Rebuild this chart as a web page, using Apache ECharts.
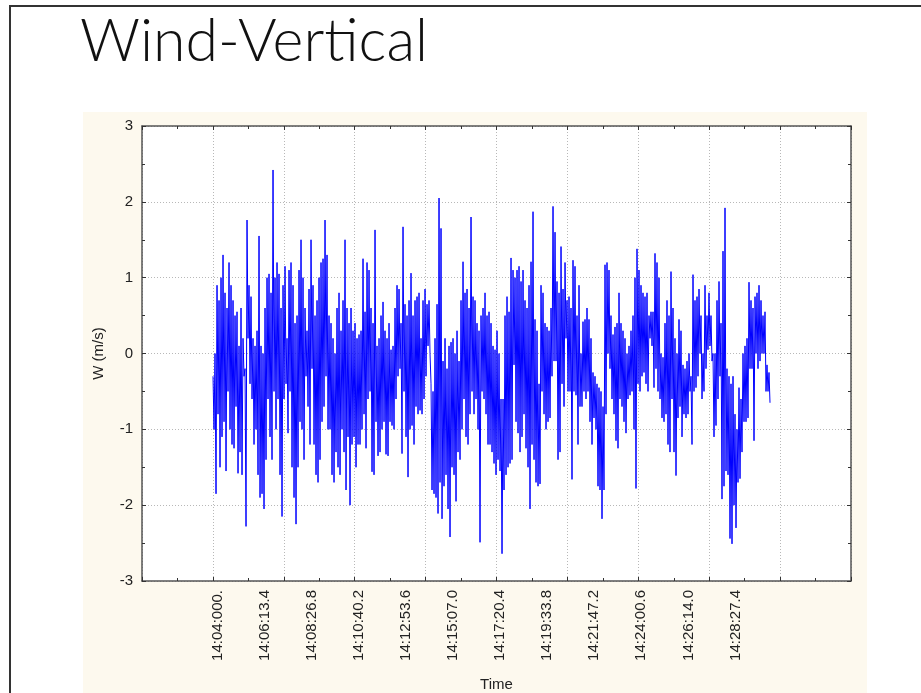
<!DOCTYPE html>
<html>
<head>
<meta charset="utf-8">
<script src="https://cdn.jsdelivr.net/npm/echarts@6/dist/echarts.min.js"></script>
<style>
html,body{margin:0;padding:0;background:#fff;}
#chart{width:921px;height:693px;}
</style>
</head>
<body>
<div id="chart"></div>
<script>
// ---- data ----
const titleText = 'Wind-Vertical';
const yName = 'W (m/s)';
const xName = 'Time';
const yTicks = [-3, -2, -1, 0, 1, 2, 3];
const timeLabels = ['14:04:000.', '14:06:13.4', '14:08:26.8', '14:10:40.2', '14:12:53.6', '14:15:07.0',
  '14:17:20.4', '14:19:33.8', '14:21:47.2', '14:24:00.6', '14:26:14.0', '14:28:27.4'];
const labelStepSeconds = 133.4;     // spacing between time labels
const startSeconds = -12.7;         // first sample, seconds after 14:04:00
const sampleSeconds = 2.8328;       // spacing between samples
const wValues = [
 -0.3,-1.0, 0.0,-1.85, 0.9,-0.8, 0.7,-1.5, 1.0,-1.1, 1.3,-0.9, 0.8,-1.55, 0.6,-0.5, 1.2,-1.0, 0.9,-1.2,
 0.7,-1.25, 0.5,-0.7, 0.55,-1.58, 0.1,-1.3, 0.6,-1.6, 0.2,-0.3, -0.2,-2.28, 1.76,0.2, 0.9,-0.4, 0.75,-0.6,
 0.2,-1.2, 0.1,-1.0, 0.3,-1.6, 1.55,-1.9, 0.1,-1.85, 0.0,-2.05, 0.6,-1.4, 1.0,-0.6, 1.05,-1.1, 0.8,-1.4,
 2.42,-0.5, 1.0,-1.0, 1.2,-0.6, 1.05,-1.6, 0.6,-2.15, 0.9,-0.6, 1.15,-0.4, 0.2,-1.05, 1.1,-0.5, 1.2,-1.5,
 0.9,-1.9, 0.4,-2.25, 0.5,-1.5, 1.1,-0.9, 1.5,-1.0, 1.0,-1.4, 0.6,-0.3, 0.3,-0.7, 0.85,-1.2, 1.5,-0.2,
 0.9,-1.2, 0.5,-1.6, 0.7,-1.7, 1.0,-1.4, 1.2,-0.9, 1.25,-0.7, 1.76,-0.3, 1.3,-1.0, 0.5,-1.0, 0.4,-1.6,
 0.2,-1.7, 0.0,-1.3, 0.6,-1.5, 0.8,-1.6, 0.3,-1.0, 0.7,-1.3, 1.5,-1.8, 0.6,-1.1, 0.4,-2.0, 0.6,-1.2,
 0.3,-1.1,
 0.4,-1.5, 0.2,-1.2, 0.25,-1.2, 0.3,-1.0, 1.25,-0.8, 0.55,-1.25, 1.2,-0.6, 1.1,-0.5, 0.6,-1.56, 0.4,-1.6,
 1.63,-0.9, 0.1,-1.35, 0.2,-1.3, 0.5,-1.0, 0.68,-0.9, 0.3,-1.33, 0.2,-1.35, 0.4,-0.9, 0.05,-0.95, 0.1,-1.0,
 0.6,-0.6, 0.9,-0.3, 0.85,-0.2, 0.4,-1.32, 1.67,-0.5, 0.65,-1.1, 0.5,-1.63, 0.7,-1.0, 1.06,-0.95, 0.5,-1.2,
 0.7,-0.7, 0.75,-0.8, 0.8,-0.75, 0.2,-0.8, 0.7,-0.6, 0.85,-0.3, 0.65,0.1, 0.7,0.0, -0.4,-1.8, -0.5,-1.85,
 0.2,-1.9, 0.65,-2.11, 2.05,-1.7, 1.65,-2.18, -0.1,-1.75, 0.2,-1.6, -0.2,-2.05, 0.1,-2.42, 0.15,-1.5, 0.2,-1.6,
 0.0,-1.95, 0.3,-1.3, -0.1,-1.4, 0.7,-1.0, 1.21,-0.6, 0.8,-1.1, 0.85,-1.2, 0.6,-0.8, 1.8,-0.5, 0.75,-0.8,
 0.7,-0.6, 0.4,-1.0, 0.3,-2.49, 0.5,-0.5, 0.6,-0.6, 0.8,-0.8, 0.5,-1.2, 0.55,-1.2, 0.4,-1.3, 0.1,-1.45,
 0.05,-1.6, 0.3,-1.4, 0.0,-1.55, -0.6,-2.64,
 -0.6,-1.8, 0.5,-1.6, 0.75,-1.5, 0.55,-1.45, 1.26,-1.4, 1.1,-0.15, 1.0,-0.9, 1.1,-1.05, 1.15,-1.3, 0.95,-1.1,
 1.1,-0.8, 0.7,-1.25, 0.6,-1.5, 0.9,-2.05, 1.21,-1.2, 1.87,-1.4, 0.45,-1.7, 0.3,-1.75, -0.4,-1.72, 0.9,-0.5,
 0.8,-0.8, 0.4,-1.0, 0.35,-0.9, 0.3,-0.85, 0.6,-0.3, 1.94,-0.1, 1.6,-0.1, 0.95,-1.4, 0.8,-1.3, 1.41,-0.4,
 0.85,-0.7, 1.2,0.2, 0.7,-0.5, 0.75,-0.5, 0.6,-1.66, 1.23,-0.5, 1.15,-0.55, 0.5,-1.2, 0.9,-0.7, 0.0,-0.7,
 0.42,-0.5, 0.45,-0.6, 0.6,-0.5, 0.45,-0.9, 0.2,-1.2, -0.25,-0.85, -0.3,-1.0, -0.4,-1.75, -0.45,-1.8, -0.5,-2.18,
 -0.7,-1.8, 1.17,-0.8, 1.2,0.0, 1.1,-0.2, 0.5,-0.6, 0.25,-0.8, 0.35,-1.15, 0.4,-1.25, 0.8,-0.6, 0.4,-0.7,
 0.3,-0.9, 0.2,-1.05, 0.0,-0.6, 0.1,-0.55, 0.3,-0.5, 0.5,-1.0, 1.0,-1.78, 1.38,-0.4,
 1.1,-0.5, 0.9,-0.3, 0.8,-0.25, 0.75,-0.4, 0.8,-0.5, 0.5,0.2, 0.55,0.1, 0.55,-0.45, 1.32,-0.2, 1.2,-0.5,
 1.0,-0.6, 0.0,-0.85, -0.05,-0.9, 0.4,-0.8, 0.7,-1.2, 0.5,-1.3, 1.08,-0.6, 0.6,-1.3, 0.2,-1.61, 0.0,-0.85,
 0.45,-0.7, 0.3,-1.1, -0.15,-0.8, -0.2,-0.85, -0.1,-0.8, 0.0,-0.5, -0.3,-1.2, 1.04,-0.5, 0.7,-0.45, 0.75,-0.3,
 0.85,0.0, 0.5,-0.6, 0.0,-0.5, 0.9,-0.2, 0.5,0.05, 0.8,0.1, 0.5,-0.1, 0.0,-1.1, 0.0,-0.95, 0.7,-0.6,
 0.95,-0.3, 0.4,-1.92, 1.35,-1.75, 1.92,-1.55, -0.2,-1.6, -0.3,-2.44, -0.4,-2.51, -0.3,-2.0, -0.8,-2.3, -1.0,-1.7,
 -0.45,-1.65, -0.6,-1.3, 0.0,-0.9, 0.1,-0.9, 0.2,-0.85, 0.94,-0.2, 0.7,-0.2, 0.6,-1.15, 0.75,0.0, 0.8,-0.2,
 0.9,-0.1, 0.7,0.0, 0.5,0.0, 0.55,-0.5, -0.15,-0.5, -0.25,-0.65
];

// ---- chart ----
const AX_MIN = -213.9, AX_MAX = 1794.6;            // visible time range (s)
const AX_INT = (AX_MAX - AX_MIN) / 10;
const labelValues = timeLabels.map((t, i) => +(i * labelStepSeconds).toFixed(2));
const labelMap = {};
labelValues.forEach((v, i) => { labelMap[v.toFixed(2)] = timeLabels[i]; });
const seriesData = wValues.map((v, i) => [startSeconds + i * sampleSeconds, v]);

const frameColor = '#555';
const textColor = '#222';
const fontFamily = '"Liberation Sans", Arial, sans-serif';
const gridLine = { show: true, lineStyle: { color: '#b8b8b8', type: [1, 2], width: 1 } };

// title: thin, condensed face, fitted to the reference width
const titleFont = '300 60px Lato, "Open Sans", sans-serif';
const mctx = document.createElement('canvas').getContext('2d');
mctx.font = titleFont;
const titleScaleX = 348 / mctx.measureText(titleText).width;

const chart = echarts.init(document.getElementById('chart'), null, { renderer: 'canvas' });
chart.setOption({
  animation: false,
  backgroundColor: '#ffffff',
  graphic: [
    { type: 'rect', shape: { x: 9, y: 5, width: 930, height: 2 }, style: { fill: '#333' }, z: 0 },
    { type: 'rect', shape: { x: 9, y: 5, width: 2, height: 700 }, style: { fill: '#333' }, z: 0 },
    { type: 'rect', shape: { x: 83, y: 112, width: 784, height: 600 }, style: { fill: '#fdf9ee' }, z: -10 },
    { type: 'rect', shape: { x: 142, y: 126, width: 709, height: 455 }, style: { fill: '#ffffff' }, z: -5 },
    { type: 'text', x: 80, y: 12, scaleX: titleScaleX,
      style: { text: titleText, font: titleFont, fill: '#111' } }
  ],
  grid: { left: 142, top: 126, width: 709, height: 455, containLabel: false, outerBoundsMode: 'none' },
  xAxis: [
    {
      type: 'value', min: AX_MIN, max: AX_MAX, interval: AX_INT, position: 'bottom',
      axisLine: { show: true, onZero: false, lineStyle: { color: frameColor, width: 1.5 } },
      axisTick: { show: true, inside: true, length: 4, lineStyle: { color: '#333' } },
      minorTick: { show: true, splitNumber: 2, length: 3, lineStyle: { color: '#333' } },
      axisLabel: { show: false },
      splitLine: gridLine
    },
    {
      type: 'value', min: AX_MIN, max: AX_MAX, position: 'bottom',
      axisLine: { show: false, onZero: false }, axisTick: { show: false }, splitLine: { show: false },
      axisLabel: {
        show: true, rotate: 90, margin: 9, color: textColor, fontFamily: fontFamily, fontSize: 15,
        customValues: labelValues,
        formatter: v => labelMap[(+v).toFixed(2)] || ''
      },
      name: xName, nameLocation: 'middle', nameGap: 96,
      nameTextStyle: { color: textColor, fontFamily: fontFamily, fontSize: 15 }
    },
    {
      type: 'value', min: AX_MIN, max: AX_MAX, interval: AX_INT, position: 'top',
      axisLine: { show: true, onZero: false, lineStyle: { color: frameColor, width: 1.5 } },
      axisTick: { show: true, inside: true, length: 4, lineStyle: { color: '#333' } },
      minorTick: { show: true, splitNumber: 2, length: 3, lineStyle: { color: '#333' } },
      axisLabel: { show: false }, splitLine: { show: false }
    }
  ],
  yAxis: [
    {
      type: 'value', min: yTicks[0], max: yTicks[yTicks.length - 1], interval: 1, position: 'left',
      axisLine: { show: true, onZero: false, lineStyle: { color: frameColor, width: 1.5 } },
      axisTick: { show: true, inside: true, length: 4, lineStyle: { color: '#333' } },
      minorTick: { show: true, splitNumber: 2, length: 3, lineStyle: { color: '#333' } },
      axisLabel: { color: textColor, fontFamily: fontFamily, fontSize: 15, margin: 9 },
      splitLine: gridLine,
      name: yName, nameLocation: 'middle', nameGap: 36, nameRotate: 90,
      nameTextStyle: { color: textColor, fontFamily: fontFamily, fontSize: 15 }
    },
    {
      type: 'value', min: yTicks[0], max: yTicks[yTicks.length - 1], interval: 1, position: 'right',
      axisLine: { show: true, onZero: false, lineStyle: { color: frameColor, width: 1.5 } },
      axisTick: { show: true, inside: true, length: 4, lineStyle: { color: '#333' } },
      minorTick: { show: true, splitNumber: 2, length: 3, lineStyle: { color: '#333' } },
      axisLabel: { show: false }, splitLine: { show: false }
    }
  ],
  series: [{
    type: 'line', xAxisIndex: 0, yAxisIndex: 0, data: seriesData,
    showSymbol: false, symbol: 'none', sampling: null,
    lineStyle: { color: '#0000ff', width: 1 }, z: 5
  }]
});
</script>
</body>
</html>
